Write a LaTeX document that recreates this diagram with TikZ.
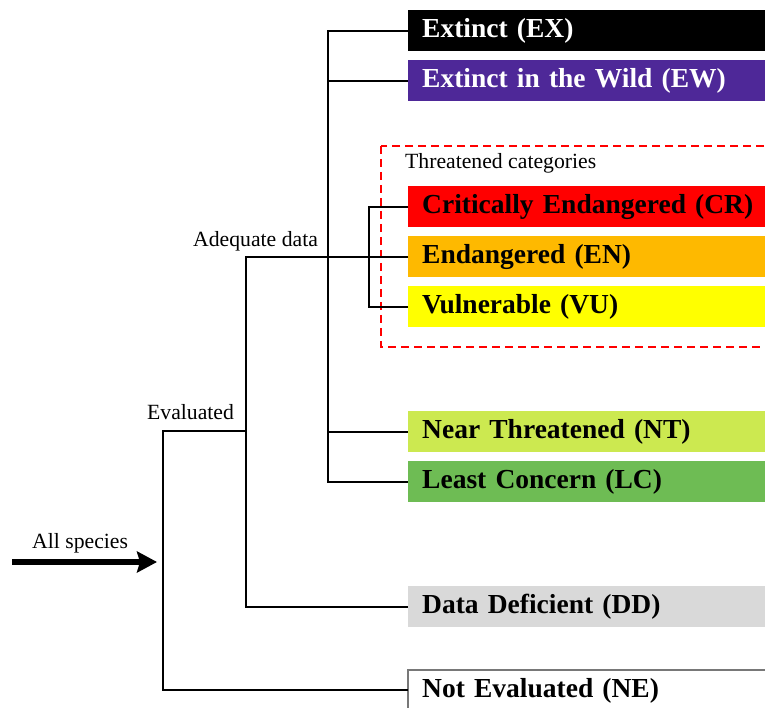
\documentclass[tikz,border=0pt]{standalone}
\usepackage{fontspec}
\setmainfont{Liberation Serif}
\usetikzlibrary{arrows.meta}
\definecolor{cEW}{RGB}{78,40,152}
\definecolor{cCR}{RGB}{255,0,0}
\definecolor{cEN}{RGB}{254,185,0}
\definecolor{cVU}{RGB}{255,255,0}
\definecolor{cNT}{RGB}{204,233,80}
\definecolor{cLC}{RGB}{110,188,84}
\definecolor{cDD}{RGB}{217,217,217}
\definecolor{cNEb}{RGB}{120,120,120}
\tikzset{
  cat/.style={anchor=north west, minimum height=41pt, inner ysep=0pt, inner xsep=14pt, text width=345pt, align=left, font=\fontsize{27.5}{29}\selectfont\bfseries, draw=none},
  lbl/.style={font=\fontsize{21.7}{24}\selectfont, inner sep=0pt},
  conn/.style={line width=1.8pt, line join=miter},
}
\begin{document}
\begin{tikzpicture}[x=1pt,y=-1pt]
\useasboundingbox (0,0) rectangle (765,708);
% categories
\node[cat, fill=black, text=white] (EX) at (408,10) {Extinct (EX)};
\node[cat, fill=cEW, text=white] (EW) at (408,60) {Extinct in the Wild (EW)};
\node[cat, fill=cCR] (CR) at (408,186) {Critically Endangered (CR)};
\node[cat, fill=cEN] (EN) at (408,236) {Endangered (EN)};
\node[cat, fill=cVU] (VU) at (408,286) {Vulnerable (VU)};
\node[cat, fill=cNT] (NT) at (408,411) {Near Threatened (NT)};
\node[cat, fill=cLC] (LC) at (408,461) {Least Concern (LC)};
\node[cat, fill=cDD] (DD) at (408,586) {Data Deficient (DD)};
\node[cat, fill=white, minimum height=41pt] (NE) at (408,670) {Not Evaluated (NE)};
\draw[cNEb, line width=1.5pt] (NE.south west) -- (NE.north west) -- (NE.north east);
% dashed threatened box
\draw[red, line width=1.5pt, dash pattern=on 8pt off 5pt] (381,146) rectangle (768,347);
\node[lbl, anchor=west] (thr) at (405,163) {Threatened categories};
% labels
\node[lbl, anchor=west] (ad) at (193,241) {Adequate data};
\node[lbl, anchor=west] (ev) at (147,412) {Evaluated};
\node[lbl, anchor=west] (all) at (32,543) {All species};
% coordinates
\coordinate (tx) at (328,0);
\coordinate (bx) at (369,0);
\coordinate (ax) at (246,0);
\coordinate (e1) at (163,431);
\coordinate (e2) at (163,690);
\coordinate (s0) at (12,562);
\coordinate (s1) at (157,562);
% connectors
\draw[conn] (EX.west) -- (EX.west -| tx) -- (LC.west -| tx) -- (LC.west);
\draw[conn] (EW.west -| tx) -- (EW.west);
\draw[conn] (NT.west -| tx) -- (NT.west);
\draw[conn] (CR.west) -- (CR.west -| bx) -- (VU.west -| bx) -- (VU.west);
\draw[conn] (EN.west) -- (EN.west -| ax) -- (DD.west -| ax) -- (DD.west);
\draw[conn] (ax |- e1) -- (e1) -- (e2) -- (NE.west |- e2);
% arrow
\draw[line width=6pt, -{Stealth[length=20pt,width=21pt,inset=3pt]}] (s0) -- (s1);
\end{tikzpicture}
\end{document}
